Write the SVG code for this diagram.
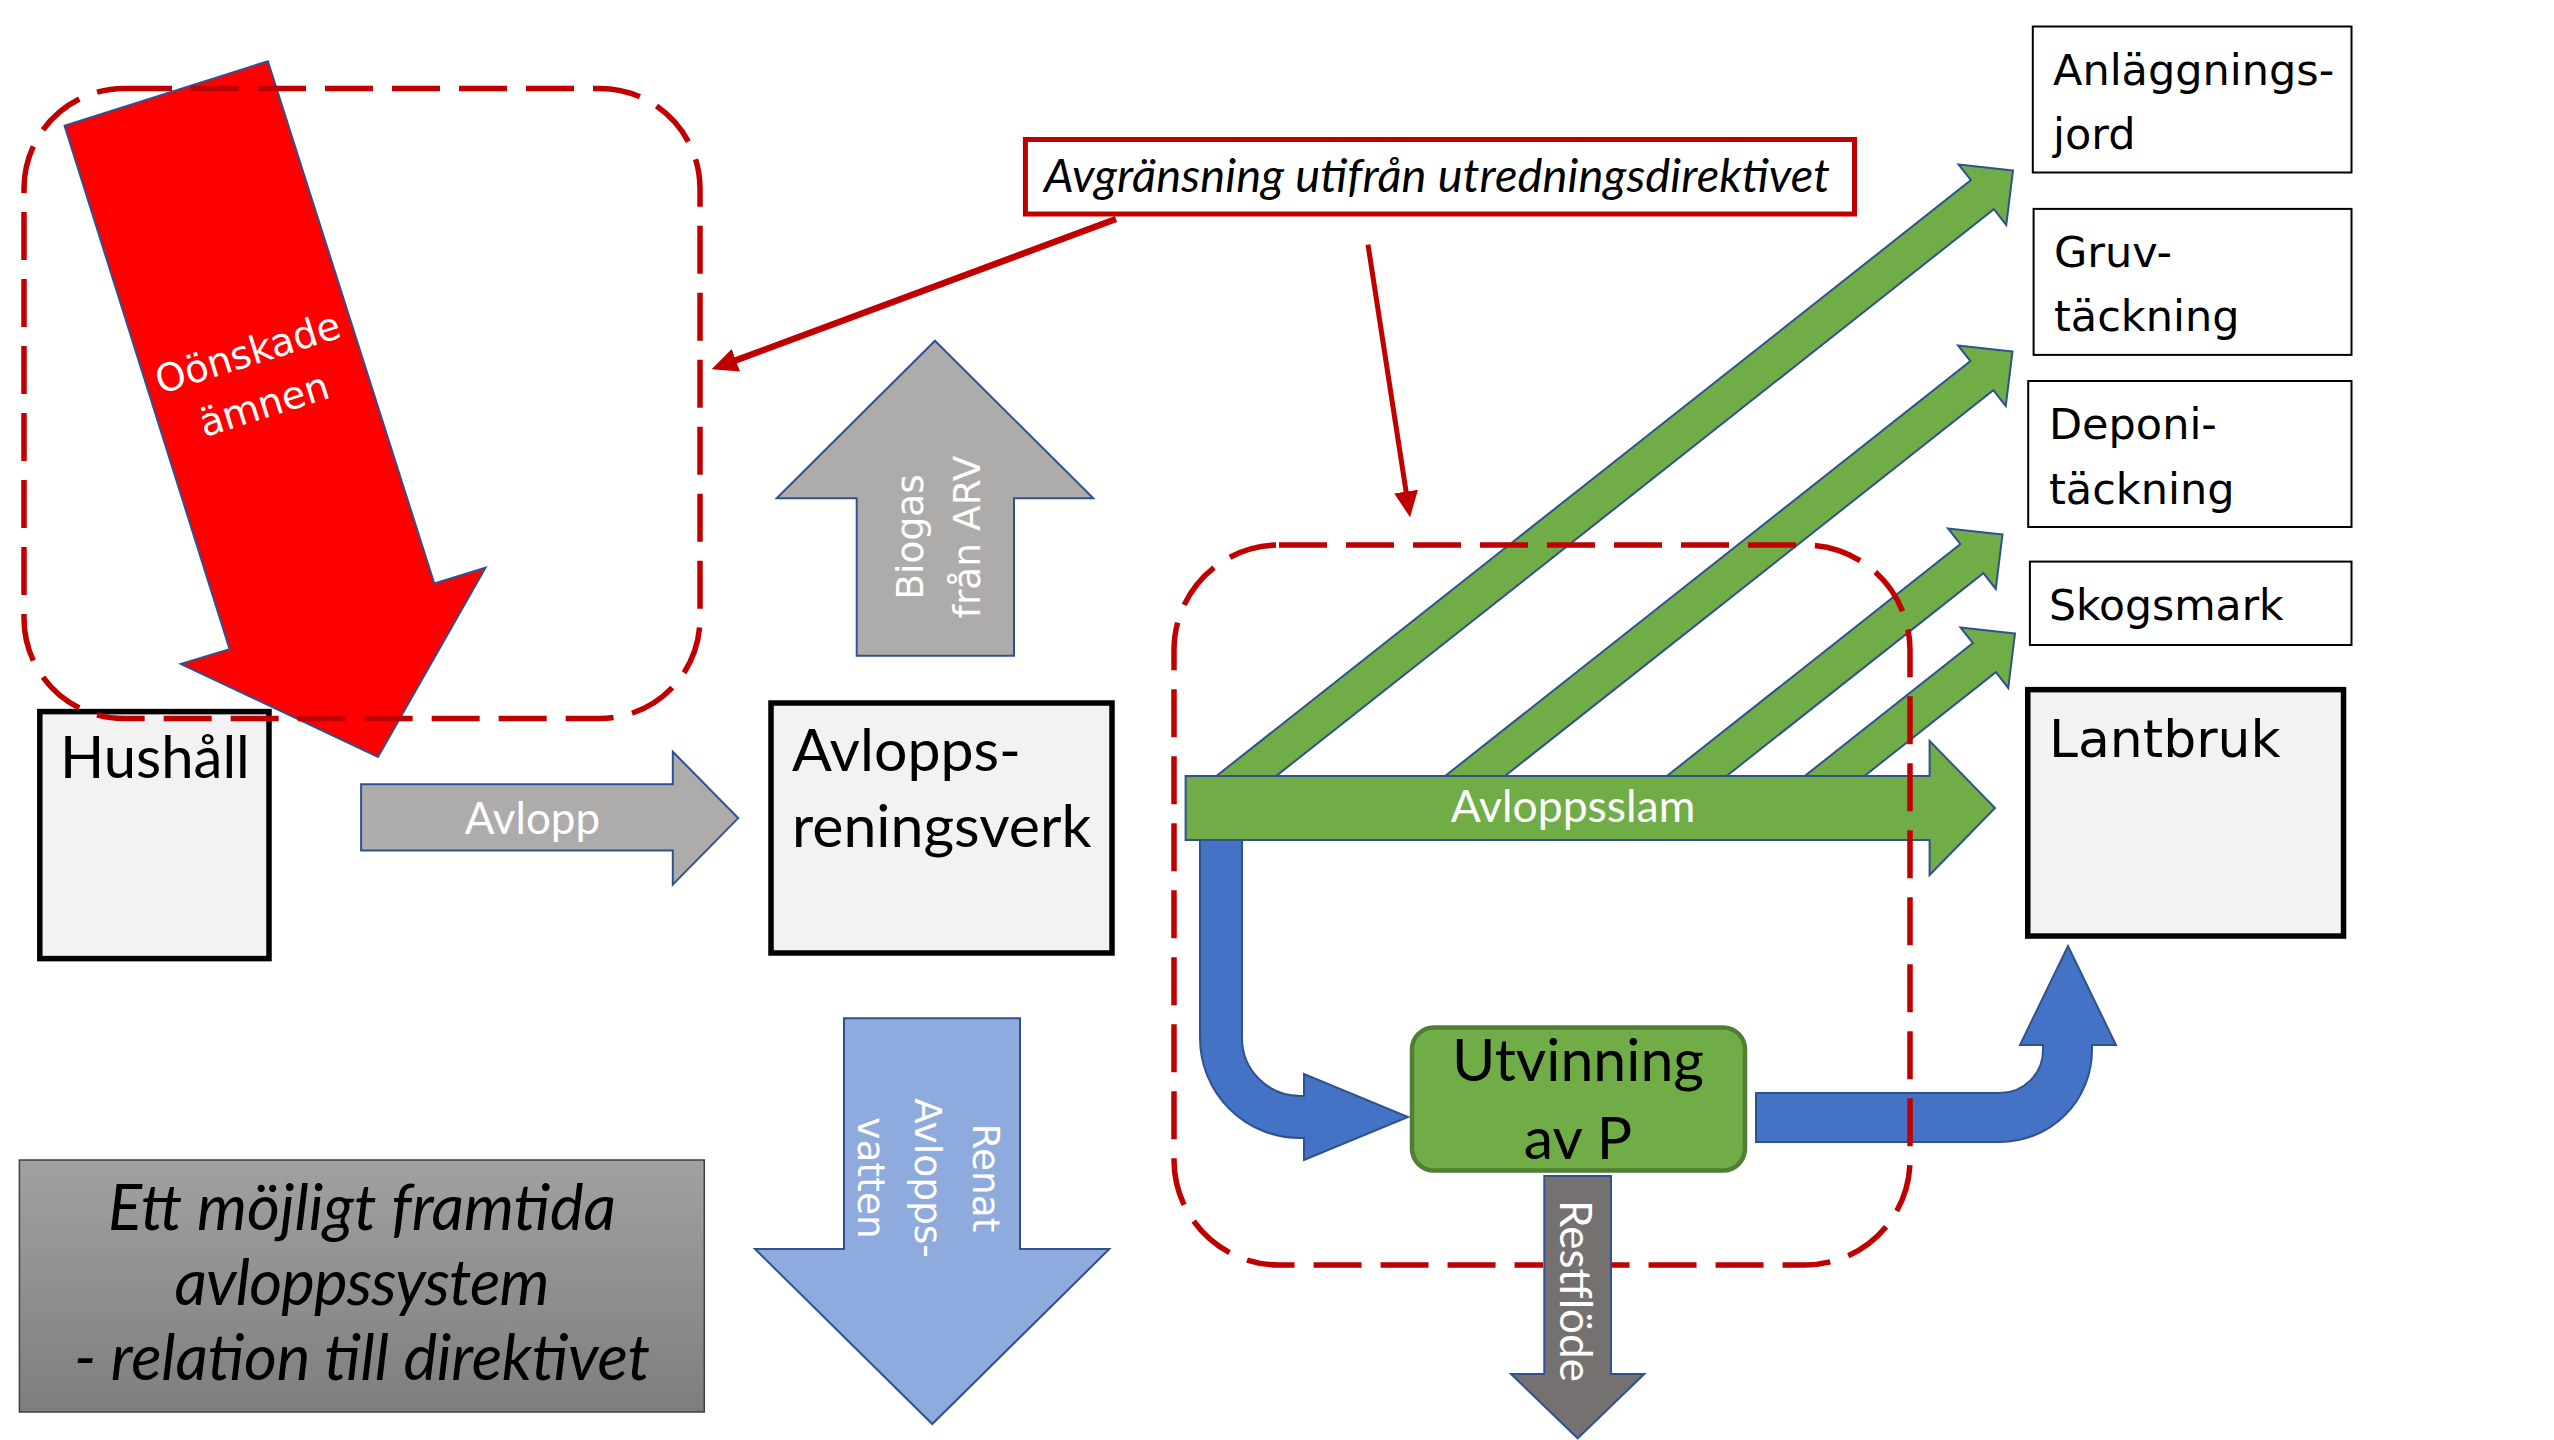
<svg xmlns="http://www.w3.org/2000/svg" width="2554" height="1440" viewBox="0 0 2554 1440">
<defs>
<style>
.node{fill:#F2F2F2;stroke:#000;stroke-width:5.5}
.tbox{fill:#fff;stroke:#000;stroke-width:2}
.cal{font-family:Lato,"Open Sans",sans-serif}
.seg{font-family:"DejaVu Sans",Verdana,sans-serif}
.flow{stroke:#2F528F;stroke-width:2;stroke-linejoin:miter}
.green{fill:#70AD47}
.blue{fill:#4472C4}
.grey{fill:#AEABAB}
.lblue{fill:#8FAADC}
.dgrey{fill:#767171}
.red{fill:#FF0000}
.wt{fill:#fff}
.bk{fill:#000}
.dash{fill:none;stroke:#C00000;stroke-width:5.5;stroke-dasharray:48 19}
.conn{fill:none;stroke:#C00000;marker-end:url(#ah)}
</style>
<marker id="ah" markerUnits="userSpaceOnUse" markerWidth="26" markerHeight="24" refX="6" refY="12" orient="auto" viewBox="0 0 26 24">
<path d="M0,0 L26,12 L0,24 Z" fill="#C00000"/>
</marker>
<linearGradient id="gg" x1="0" y1="0" x2="0" y2="1">
<stop offset="0" stop-color="#A1A1A1"/>
<stop offset="1" stop-color="#7E7E7E"/>
</linearGradient>
<mask id="mrest" maskUnits="userSpaceOnUse" x="0" y="0" width="2554" height="1440">
<rect width="2554" height="1440" fill="#fff"/>
<polygon points="1543,1175 1612,1175 1612,1373 1646,1373 1577.7,1440 1509,1373 1543,1373" fill="#000"/>
</mask>
</defs>
<rect width="2554" height="1440" fill="#fff"/>

<g id="nodes">
<g id="hushall">
<rect class="node" x="39.8" y="711.6" width="229.2" height="247"/>
<text class="cal bk" x="60" y="778.4" font-size="58">Hushåll</text>
</g>
<g id="avloppsreningsverk">
<rect class="node" x="771" y="703" width="341" height="250"/>
<text class="cal bk" x="792" y="771" font-size="59">Avlopps-</text>
<text class="cal bk" x="792" y="846.5" font-size="59">reningsverk</text>
</g>
<g id="utvinning">
<rect x="1412" y="1027.5" width="333" height="143" rx="22" fill="#70AD47" stroke="#507E32" stroke-width="4.5"/>
<text class="cal bk" x="1578" y="1081" font-size="59" text-anchor="middle">Utvinning</text>
<text class="cal bk" x="1578" y="1159" font-size="59" text-anchor="middle">av P</text>
</g>
<g id="lantbruk">
<rect class="node" x="2027.75" y="689.65" width="315.8" height="246.4"/>
<text class="seg bk" x="2049" y="757" font-size="52">Lantbruk</text>
</g>
<g id="anlaggningsjord">
<rect class="tbox" x="2032.8" y="26.5" width="318.7" height="146"/>
<text class="seg bk" x="2053" y="84.8" font-size="43">Anläggnings-</text>
<text class="seg bk" x="2053" y="148.6" font-size="43">jord</text>
</g>
<g id="gruvtackning">
<rect class="tbox" x="2033.6" y="208.9" width="317.9" height="146"/>
<text class="seg bk" x="2054" y="266.7" font-size="43">Gruv-</text>
<text class="seg bk" x="2054" y="331" font-size="43">täckning</text>
</g>
<g id="deponitackning">
<rect class="tbox" x="2028.2" y="381" width="323.3" height="146"/>
<text class="seg bk" x="2049" y="439" font-size="43">Deponi-</text>
<text class="seg bk" x="2049" y="503.5" font-size="43">täckning</text>
</g>
<g id="skogsmark">
<rect class="tbox" x="2029.9" y="561.6" width="321.6" height="83.4"/>
<text class="seg bk" x="2049" y="620" font-size="42.5">Skogsmark</text>
</g>
<g id="avgransning">
<rect x="1025.4" y="139.5" width="829.1" height="74.5" fill="#fff" stroke="#C00000" stroke-width="5"/>
<text class="cal bk" x="1437" y="191.5" font-size="47" font-style="italic" text-anchor="middle" textLength="786">Avgränsning utifrån utredningsdirektivet</text>
</g>
<g id="titel">
<rect x="19.4" y="1160" width="684.9" height="252" fill="url(#gg)" stroke="#404040" stroke-width="1.5"/>
<text class="cal bk" x="362" y="1230.2" font-size="63.5" font-style="italic" text-anchor="middle" textLength="508">Ett möjligt framtida</text>
<text class="cal bk" x="362" y="1305.3" font-size="63.5" font-style="italic" text-anchor="middle" textLength="375">avloppssystem</text>
<text class="cal bk" x="362" y="1380.4" font-size="63.5" font-style="italic" text-anchor="middle" textLength="576">- relation till direktivet</text>
</g>
</g>

<g id="connectors">
<g id="oonskade">
<polygon class="red flow" points="64.6,125.8 267.9,61.2 434.3,583.5 485.5,567.7 378,757 180.8,663.9 229.6,649.1"/>
<g transform="translate(251.6,365.4) rotate(-17.5)">
<text class="seg wt" x="0" y="0" font-size="38.5" text-anchor="middle">Oönskade</text>
<text class="seg wt" x="0" y="54.4" font-size="38.5" text-anchor="middle">ämnen</text>
</g>
</g>
<g id="avlopp">
<polygon class="grey flow" points="361.1,784.2 672.8,784.2 672.8,751.7 738.2,818.1 672.8,884.6 672.8,850.6 361.1,850.6"/>
<text class="cal wt" x="532.5" y="834" font-size="44" text-anchor="middle">Avlopp</text>
</g>
<g id="biogas">
<polygon class="grey flow" points="935,340.7 1093.3,498.3 1014,498.3 1014,655.7 856.7,655.7 856.7,498.3 776.7,498.3"/>
<g transform="translate(922.7,537) rotate(-90)">
<text class="seg wt" x="0" y="0" font-size="37.5" text-anchor="middle">Biogas</text>
<text class="seg wt" x="0" y="57.3" font-size="37.5" text-anchor="middle">från ARV</text>
</g>
</g>
<g id="renat">
<polygon class="lblue flow" points="844,1018.3 1020,1018.3 1020,1249 1109.3,1249 932.3,1424 755,1249 844,1249"/>
<g transform="translate(973.3,1178) rotate(90)">
<text class="seg wt" x="0" y="0" font-size="37.5" text-anchor="middle">Renat</text>
<text class="seg wt" x="0" y="58" font-size="37.5" text-anchor="middle">Avlopps-</text>
<text class="seg wt" x="0" y="115" font-size="37.5" text-anchor="middle">vatten</text>
</g>
</g>
<g id="slam-anlaggningsjord">
<polygon class="green flow" transform="translate(2013,170.5) rotate(-38.3)" points="0,0 -39,-38.5 -39,-18.5 -1031,-18.5 -1031,18.5 -39,18.5 -39,38.5"/>
</g>
<g id="slam-gruvtackning">
<polygon class="green flow" transform="translate(2012.5,351.5) rotate(-38.3)" points="0,0 -39,-38.5 -39,-18.5 -739,-18.5 -739,18.5 -39,18.5 -39,38.5"/>
</g>
<g id="slam-deponitackning">
<polygon class="green flow" transform="translate(2002.5,534.5) rotate(-38.3)" points="0,0 -39,-38.5 -39,-18.5 -444,-18.5 -444,18.5 -39,18.5 -39,38.5"/>
</g>
<g id="slam-skogsmark">
<polygon class="green flow" transform="translate(2015,633.5) rotate(-38.3)" points="0,0 -39,-38.5 -39,-18.5 -284,-18.5 -284,18.5 -39,18.5 -39,38.5"/>
</g>
<g id="slam-utvinning">
<path class="blue flow" d="M1200,835 L1200,1038 A100,100 0 0 0 1300,1138 L1304,1138 L1304,1160 L1408,1117 L1304,1074 L1304,1096 L1300,1096 A58,58 0 0 1 1242,1038 L1242,835 Z"/>
</g>
<g id="avloppsslam">
<polygon class="green flow" points="1185.6,776 1929.6,776 1929.6,741 1995,808 1929.6,875 1929.6,840 1185.6,840"/>
<text class="cal wt" x="1573" y="822" font-size="44.5" text-anchor="middle">Avloppsslam</text>
</g>
<g id="utvinning-lantbruk">
<path class="blue flow" d="M1756,1093 L2000,1093 A43,43 0 0 0 2043,1050 L2043,1045 L2020,1045 L2068,946 L2116,1045 L2092,1045 L2092,1050 A92,92 0 0 1 2000,1142 L1756,1142 Z"/>
</g>
<g id="restflode">
<polygon class="dgrey flow" points="1544.3,1176 1611,1176 1611,1374 1644.3,1374 1577.7,1438.3 1511,1374 1544.3,1374"/>
<text class="cal wt" transform="translate(1560,1291) rotate(90)" x="0" y="0" font-size="44" text-anchor="middle">Restflöde</text>
</g>
<path class="conn" stroke-width="6.5" d="M1116,219 L730.3,362.4"/>
<path class="conn" stroke-width="5" d="M1368,244.7 L1407,497.5"/>
</g>

<g id="boundaries" mask="url(#mrest)">
<rect class="dash" x="24" y="88.5" width="676" height="630" rx="100"/>
<rect class="dash" x="1174" y="545" width="736" height="720" rx="105"/>
</g>
</svg>
